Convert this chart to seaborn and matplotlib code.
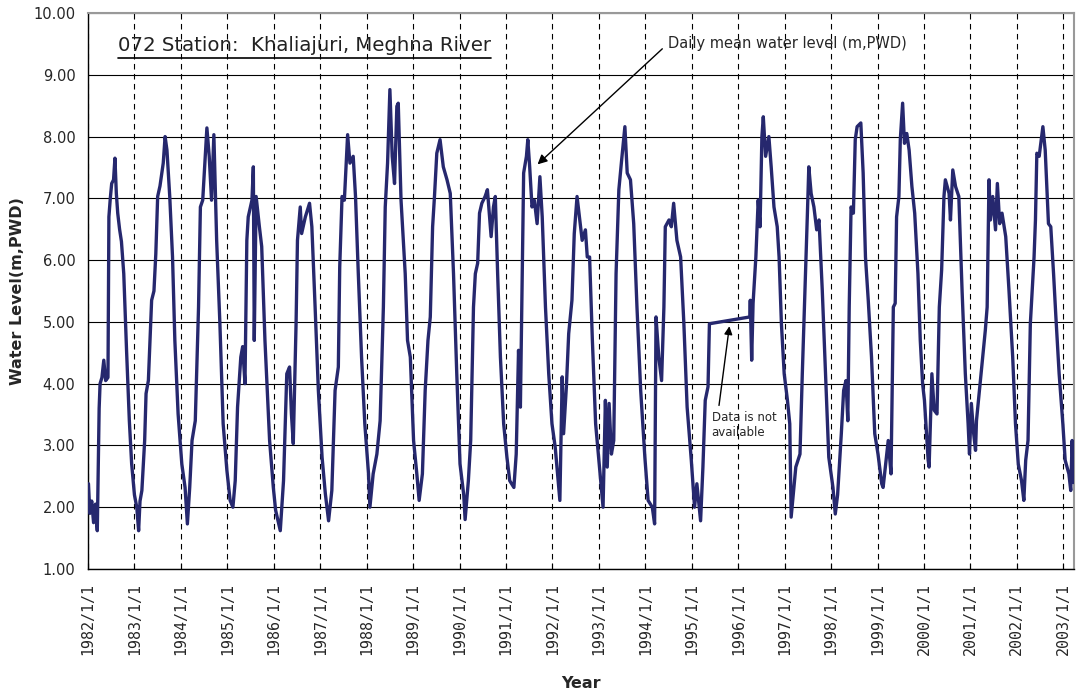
import matplotlib
matplotlib.use("Agg")
import matplotlib.pyplot as plt
import seaborn as sns
import pandas as pd
from matplotlib.lines import Line2D

sns.set_theme(style="white")
plt.rcParams['font.family'] = ['DejaVu Sans']

# ---- axis ticks / labels ----
years = list(range(1982, 2004))
x_tick_labels = [f"{y}/1/1" for y in years]
y_ticks = [1, 2, 3, 4, 5, 6, 7, 8, 9, 10]

# ---- data (decimal year, water level m PWD) ----
t_1982_1986 = [1982.01, 1982.04, 1982.08, 1982.12, 1982.16, 1982.20, 1982.24, 1982.26, 1982.30, 1982.34,
               1982.38, 1982.43, 1982.45, 1982.48, 1982.51, 1982.55, 1982.58, 1982.61, 1982.64, 1982.68,
               1982.72, 1982.77, 1982.83, 1982.89, 1982.94, 1983.00, 1983.05, 1983.09, 1983.12, 1983.16,
               1983.22, 1983.25, 1983.30, 1983.37, 1983.42, 1983.46, 1983.50, 1983.55, 1983.62, 1983.66,
               1983.70, 1983.76, 1983.82, 1983.87, 1983.94, 1984.02, 1984.09, 1984.14, 1984.19, 1984.24,
               1984.31, 1984.38, 1984.42, 1984.47, 1984.51, 1984.56, 1984.61, 1984.66, 1984.71, 1984.77,
               1984.84, 1984.91, 1984.99, 1985.06, 1985.12, 1985.17, 1985.22, 1985.29, 1985.33, 1985.38,
               1985.42, 1985.45, 1985.53, 1985.56, 1985.58, 1985.62, 1985.69, 1985.74, 1985.81, 1985.91,
               1985.99, 1986.04, 1986.14, 1986.21, 1986.28, 1986.34, 1986.38, 1986.42, 1986.48, 1986.51,
               1986.57, 1986.60, 1986.68, 1986.77, 1986.82, 1986.89, 1986.96]
wl_1982_1986 = [2.38, 1.90, 2.10, 1.75, 2.05, 1.62, 3.60, 4.00, 4.10, 4.38,
                4.05, 4.10, 6.70, 7.00, 7.24, 7.30, 7.65, 7.08, 6.76, 6.50,
                6.30, 5.78, 4.54, 3.40, 2.70, 2.20, 2.00, 1.62, 2.10, 2.27,
                3.08, 3.84, 4.05, 5.35, 5.50, 6.10, 7.03, 7.20, 7.57, 8.00,
                7.78, 7.03, 6.05, 4.70, 3.51, 2.70, 2.32, 1.73, 2.32, 3.08,
                3.40, 5.24, 6.86, 6.97, 7.50, 8.14, 7.68, 6.97, 8.03, 6.32,
                4.97, 3.35, 2.60, 2.11, 2.00, 2.43, 3.62, 4.43, 4.60, 4.00,
                6.32, 6.70, 6.97, 7.51, 4.70, 7.03, 6.54, 6.22, 4.70, 3.08,
                2.32, 1.95, 1.62, 2.43, 4.16, 4.27, 3.51, 3.03, 4.97, 6.32,
                6.86, 6.43, 6.70, 6.92, 6.54, 5.24, 3.89]

t_1987_1991 = [1987.04, 1987.11, 1987.18, 1987.25, 1987.32, 1987.39, 1987.42, 1987.47, 1987.52, 1987.59,
               1987.64, 1987.71, 1987.76, 1987.82, 1987.89, 1987.96, 1988.04, 1988.07, 1988.14, 1988.22,
               1988.29, 1988.36, 1988.40, 1988.45, 1988.50, 1988.55, 1988.60, 1988.65, 1988.68, 1988.74,
               1988.83, 1988.88, 1988.94, 1989.01, 1989.08, 1989.13, 1989.20, 1989.26, 1989.32, 1989.37,
               1989.42, 1989.46, 1989.51, 1989.58, 1989.65, 1989.73, 1989.80, 1989.87, 1989.94, 1990.01,
               1990.09, 1990.12, 1990.19, 1990.24, 1990.30, 1990.34, 1990.39, 1990.43, 1990.48, 1990.55,
               1990.60, 1990.68, 1990.73, 1990.77, 1990.82, 1990.88, 1990.95, 1991.02, 1991.08, 1991.17,
               1991.22, 1991.27, 1991.31, 1991.35, 1991.38, 1991.44, 1991.47, 1991.51, 1991.56, 1991.61,
               1991.67, 1991.73, 1991.78, 1991.85, 1991.92, 1991.99]
wl_1987_1991 = [2.81, 2.22, 1.78, 2.27, 3.89, 4.27, 5.89, 7.03, 6.97, 8.03,
                7.57, 7.68, 7.03, 5.78, 4.43, 3.35, 2.54, 2.00, 2.54, 2.86,
                3.40, 5.24, 6.86, 7.57, 8.76, 7.68, 7.24, 8.49, 8.54, 6.97,
                5.78, 4.70, 4.43, 3.08, 2.54, 2.11, 2.54, 3.89, 4.70, 5.08,
                6.54, 7.03, 7.73, 7.95, 7.51, 7.30, 7.08, 5.78, 4.16, 2.70,
                2.20, 1.80, 2.43, 3.08, 5.24, 5.78, 5.95, 6.76, 6.92, 7.03,
                7.14, 6.38, 6.86, 7.03, 5.78, 4.43, 3.35, 2.81, 2.43, 2.32,
                2.86, 4.54, 3.62, 5.78, 7.41, 7.68, 7.95, 7.51, 6.86, 6.97,
                6.59, 7.35, 6.70, 5.24, 4.16, 3.35]

t_1992_1996 = [1992.06, 1992.16, 1992.21, 1992.24, 1992.30, 1992.35, 1992.42, 1992.47, 1992.53, 1992.59,
               1992.64, 1992.71, 1992.75, 1992.80, 1992.86, 1992.93, 1993.00, 1993.09, 1993.14, 1993.18,
               1993.22, 1993.27, 1993.32, 1993.37, 1993.43, 1993.49, 1993.56, 1993.61, 1993.68, 1993.75,
               1993.82, 1993.90, 1993.99, 1994.06, 1994.15, 1994.20, 1994.23, 1994.29, 1994.35, 1994.40,
               1994.43, 1994.51, 1994.56, 1994.61, 1994.68, 1994.76, 1994.83, 1994.90, 1994.99, 1995.06,
               1995.11, 1995.19, 1995.24, 1995.29, 1995.35, 1995.38, 1996.25, 1996.26, 1996.29, 1996.32,
               1996.38, 1996.43, 1996.47, 1996.51, 1996.54, 1996.59, 1996.66, 1996.71, 1996.77, 1996.84,
               1996.88, 1996.93, 1996.99]
wl_1992_1996 = [2.97, 2.11, 4.11, 3.19, 3.95, 4.81, 5.35, 6.43, 7.03, 6.65,
                6.32, 6.49, 6.05, 6.05, 4.70, 3.35, 2.76, 2.00, 3.73, 2.65,
                3.68, 2.86, 3.08, 5.78, 7.14, 7.62, 8.16, 7.41, 7.30, 6.59,
                5.24, 3.89, 2.81, 2.11, 2.00, 1.73, 5.08, 4.43, 4.05, 5.24,
                6.54, 6.65, 6.54, 6.92, 6.32, 6.05, 4.97, 3.62, 2.76, 2.00,
                2.38, 1.78, 2.65, 3.73, 3.95, 4.97, 5.08, 5.35, 4.38, 5.30,
                6.05, 6.97, 6.54, 8.00, 8.32, 7.68, 8.00, 7.51, 6.86, 6.54,
                6.05, 4.97, 4.16]

t_1997_2003 = [1997.06, 1997.11, 1997.14, 1997.24, 1997.33, 1997.38, 1997.45, 1997.49, 1997.52, 1997.57,
               1997.63, 1997.69, 1997.74, 1997.81, 1997.88, 1997.95, 1998.04, 1998.09, 1998.14, 1998.22,
               1998.27, 1998.32, 1998.36, 1998.39, 1998.43, 1998.48, 1998.52, 1998.56, 1998.64, 1998.69,
               1998.74, 1998.80, 1998.87, 1998.94, 1999.01, 1999.09, 1999.12, 1999.23, 1999.29, 1999.34,
               1999.38, 1999.41, 1999.46, 1999.49, 1999.54, 1999.58, 1999.63, 1999.68, 1999.74, 1999.80,
               1999.87, 1999.92, 1999.97, 2000.01, 2000.09, 2000.11, 2000.17, 2000.22, 2000.28, 2000.33,
               2000.38, 2000.43, 2000.46, 2000.54, 2000.57, 2000.62, 2000.68, 2000.75, 2000.82, 2000.89,
               2000.95, 2000.98, 2001.02, 2001.07, 2001.11, 2001.13, 2001.32, 2001.36, 2001.40, 2001.43,
               2001.48, 2001.54, 2001.58, 2001.63, 2001.68, 2001.76, 2001.83, 2001.91, 2001.97, 2002.03,
               2002.10, 2002.15, 2002.19, 2002.24, 2002.29, 2002.37, 2002.40, 2002.43, 2002.48, 2002.56,
               2002.61, 2002.68, 2002.73, 2002.79, 2002.84, 2002.91, 2002.99, 2003.04, 2003.12, 2003.16,
               2003.19, 2003.22]
wl_1997_2003 = [3.73, 3.35, 1.84, 2.65, 2.86, 4.16, 5.78, 6.76, 7.51, 7.08,
                6.86, 6.49, 6.65, 5.51, 4.16, 2.81, 2.32, 1.89, 2.20, 3.19,
                3.89, 4.05, 3.40, 5.24, 6.86, 6.76, 7.95, 8.16, 8.22, 7.41,
                6.05, 5.35, 4.43, 3.19, 2.86, 2.38, 2.32, 3.08, 2.54, 5.24,
                5.30, 6.70, 7.03, 7.95, 8.54, 7.89, 8.05, 7.78, 7.19, 6.76,
                5.78, 4.70, 4.00, 3.73, 2.76, 2.65, 4.16, 3.57, 3.51, 5.24,
                5.84, 7.03, 7.30, 7.08, 6.65, 7.46, 7.19, 7.03, 5.51, 4.16,
                3.35, 2.86, 3.68, 3.19, 2.92, 3.40, 4.86, 5.24, 7.30, 6.65,
                7.03, 6.49, 7.24, 6.59, 6.76, 6.38, 5.51, 4.43, 3.35, 2.70,
                2.43, 2.11, 2.76, 3.08, 4.97, 6.05, 6.65, 7.73, 7.68, 8.16,
                7.78, 6.59, 6.54, 5.78, 5.08, 4.16, 3.35, 2.76, 2.54, 2.27,
                3.08, 2.40]

df = pd.DataFrame({
    "t": t_1982_1986 + t_1987_1991 + t_1992_1996 + t_1997_2003,
    "wl": wl_1982_1986 + wl_1987_1991 + wl_1992_1996 + wl_1997_2003,
})

W, H = 1077, 696
fig = plt.figure(figsize=(W / 100, H / 100), dpi=100)
ax = fig.add_axes([88 / W, 1 - 569 / H, (1074 - 88) / W, (569 - 13) / H])

sns.lineplot(data=df, x="t", y="wl", sort=False, estimator=None, ax=ax,
             color="#26286e", linewidth=2.4, zorder=3)

ax.set_xlim(1982.0, 2003.23)
ax.set_ylim(1, 10)
ax.set_xticks(years)
ax.set_xticklabels(x_tick_labels, rotation=90, fontsize=10.8, family="DejaVu Sans Mono")
ax.set_yticks(y_ticks)
ax.set_yticklabels([f"{v:.2f}" for v in y_ticks], fontsize=10.5)

ax.set_axisbelow(True)
ax.yaxis.grid(True, color="black", linewidth=0.8, linestyle="-")
ax.xaxis.grid(True, color="black", linewidth=0.8, linestyle=(0, (5, 4)))

ax.tick_params(axis="x", direction="in", length=4, width=0.8, color="black", pad=10, bottom=True)
ax.tick_params(axis="y", length=0, pad=9)

for s in ["left", "bottom"]:
    ax.spines[s].set_color("black")
    ax.spines[s].set_linewidth(1.0)
for s in ["top", "right"]:
    ax.spines[s].set_color("#999999")
    ax.spines[s].set_linewidth(1.5)

ax.set_xlabel("Year", fontsize=11.5, fontweight="bold", labelpad=15)
ax.set_ylabel("Water Level(m,PWD)", fontsize=11.5, fontweight="bold", labelpad=6)

# station title with underline
title = ax.text(1982.65, 9.48, "072 Station:  Khaliajuri, Meghna River", fontsize=14.2,
                ha="left", va="center", color="#222222")
fig.canvas.draw()
bb = title.get_window_extent().transformed(ax.transAxes.inverted())
ax.add_line(Line2D([bb.x0, bb.x1], [bb.y0 - 0.006, bb.y0 - 0.006], transform=ax.transAxes,
                   color="black", linewidth=1.2))

ax.annotate("Daily mean water level (m,PWD)", xy=(1991.68, 7.55), xytext=(1994.48, 9.50),
            fontsize=10.5, ha="left", va="center",
            arrowprops=dict(arrowstyle="-|>", color="black", lw=1.0, relpos=(0, 0.5),
                            shrinkA=2, shrinkB=0, mutation_scale=14))

ax.annotate("Data is not\navailable", xy=(1995.81, 4.93), xytext=(1995.43, 3.55),
            fontsize=8.5, ha="left", va="top", linespacing=1.2,
            arrowprops=dict(arrowstyle="-|>", color="black", lw=1.0, relpos=(0.1, 1.0),
                            shrinkA=2, shrinkB=0, mutation_scale=12))

fig.savefig("out.png", dpi=100)
